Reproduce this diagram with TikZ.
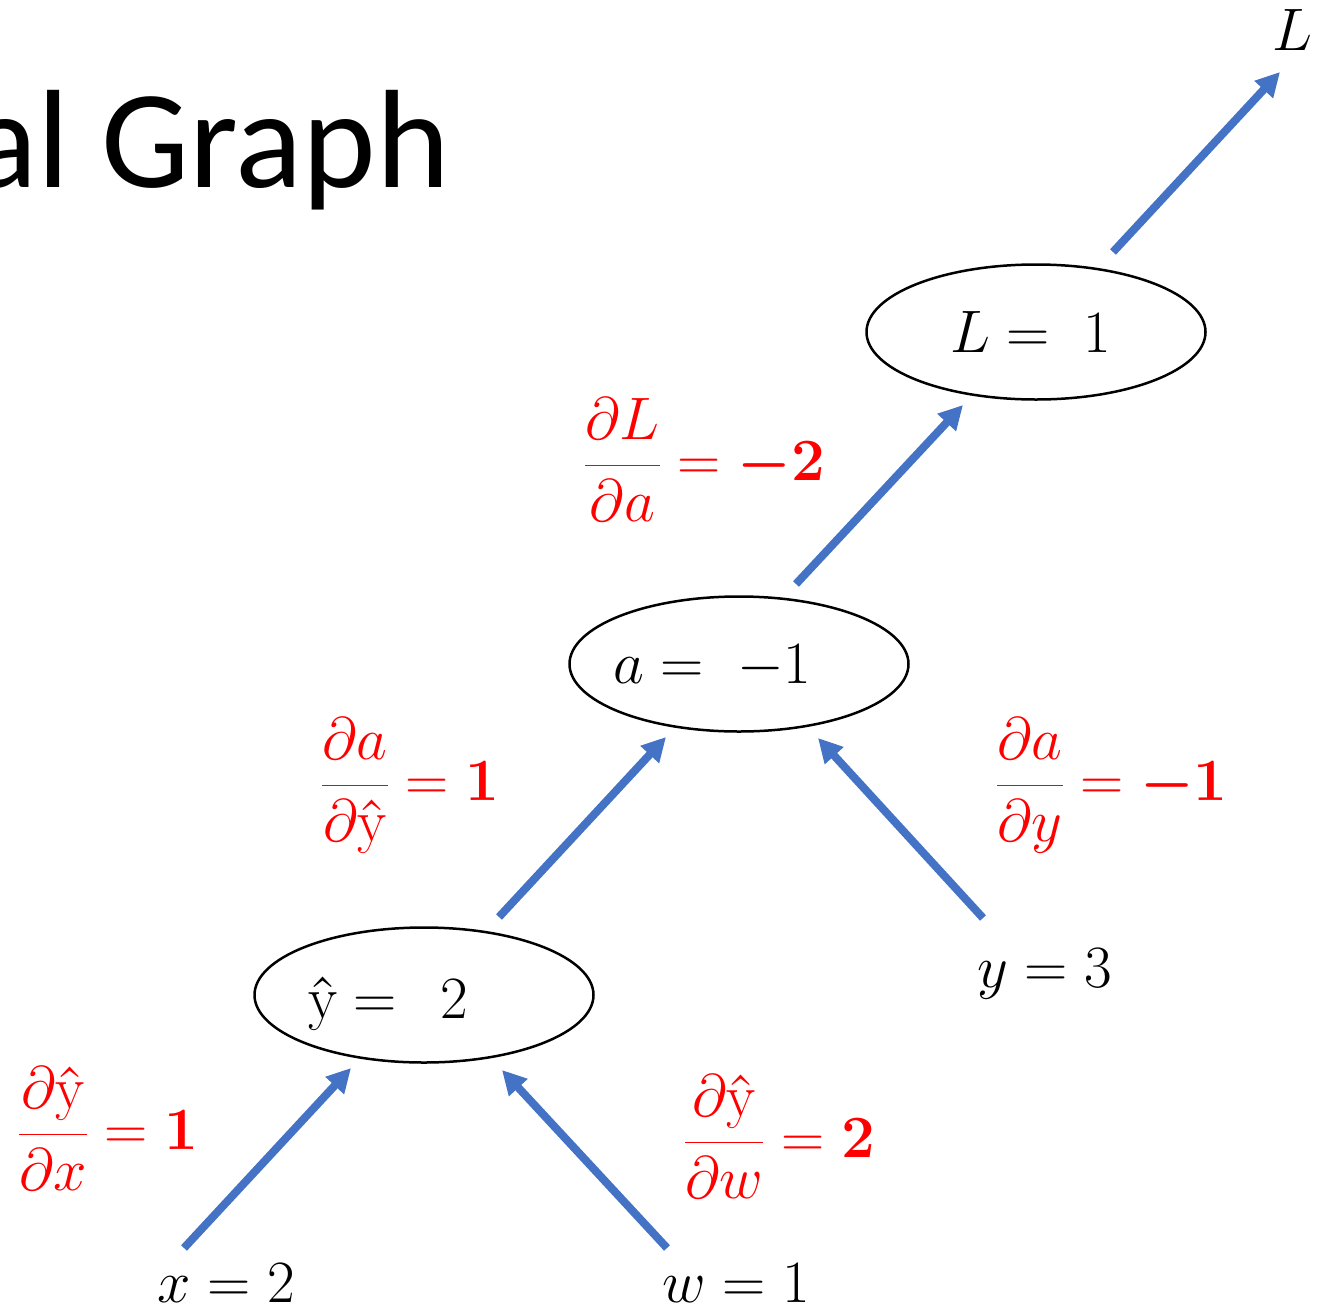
\RequirePackage{fix-cm}
\documentclass[tikz,border=0pt]{standalone}
\usepackage{amsmath}
\usepackage{bm}
\usepackage{fontspec}
\newfontfamily\titlefont{Carlito}
\usetikzlibrary{arrows.meta,shapes.geometric}
\definecolor{arrowblue}{HTML}{4472C4}
\definecolor{gradred}{HTML}{FF0000}
\newcommand{\yhat}{\text{ŷ}}
\tikzset{
  flow/.style={draw=arrowblue, line width=8pt, -{Triangle[length=24pt,width=24pt]}},
  ell/.style={draw=black, line width=2.5pt, ellipse, inner sep=0pt, minimum width=339pt, minimum height=135pt},
  mtxt/.style={inner sep=0pt, anchor=base west, font=\fontsize{60}{72}\selectfont},
  grad/.style={inner sep=0pt, anchor=base west, text=gradred, font=\fontsize{60}{72}\selectfont},
}
\begin{document}
\begin{tikzpicture}[x=1pt,y=-1pt]
\useasboundingbox (0,0) rectangle (1320,1312);
\clip (0,0) rectangle (1320,1312);
% title
\node[inner sep=0pt, anchor=base east, font=\titlefont\fontsize{140}{160}\selectfont] (title) at (450,187) {al Graph};
% ellipses
\node[ell] (Lnode) at (1036,332) {};
\node[ell] (anode) at (739,664) {};
\node[ell] (ynode) at (424,995) {};
\node[mtxt] (Ltxt) at (950,352) {$L = \;1$};
\node[mtxt] (atxt) at (613,683) {$a = \;-1$};
\node[mtxt] (ytxt) at (308,1018) {$\yhat = \;\,2$};
% leaf values
\node[mtxt] (xval) at (157,1302) {$x = 2$};
\node[mtxt] (wval) at (662,1302) {$w = 1$};
\node[mtxt] (yval) at (977,987) {$y = 3$};
\node[mtxt] (Lout) at (1272,50) {$L$};
% gradients
\node[grad] (gLa) at (584,480) {$\displaystyle\frac{\partial L}{\partial a} = \bm{-2}$};
\node[grad] (gay) at (321,800) {$\displaystyle\frac{\partial a}{\partial \yhat} = \bm{1}$};
\node[grad] (gayt) at (996,800) {$\displaystyle\frac{\partial a}{\partial y} = \bm{-1}$};
\node[grad] (gyx) at (18,1149) {$\displaystyle\frac{\partial \yhat}{\partial x} = \bm{1}$};
\node[grad] (gyw) at (684,1157) {$\displaystyle\frac{\partial \yhat}{\partial w} = \bm{2}$};
% connector end points
\coordinate (x-out) at (184,1248);
\coordinate (y-in-x) at (351,1068);
\coordinate (w-out) at (667,1248);
\coordinate (y-in-w) at (502,1070);
\coordinate (y-out) at (499,917);
\coordinate (a-in-y) at (666,737);
\coordinate (yt-out) at (983,918);
\coordinate (a-in-yt) at (818,738);
\coordinate (a-out) at (796,584);
\coordinate (L-in) at (963,405);
\coordinate (L-out) at (1113,252);
\coordinate (L-end) at (1280,72);
\draw[flow] (x-out) -- (y-in-x);
\draw[flow] (w-out) -- (y-in-w);
\draw[flow] (y-out) -- (a-in-y);
\draw[flow] (yt-out) -- (a-in-yt);
\draw[flow] (a-out) -- (L-in);
\draw[flow] (L-out) -- (L-end);
\end{tikzpicture}
\end{document}
